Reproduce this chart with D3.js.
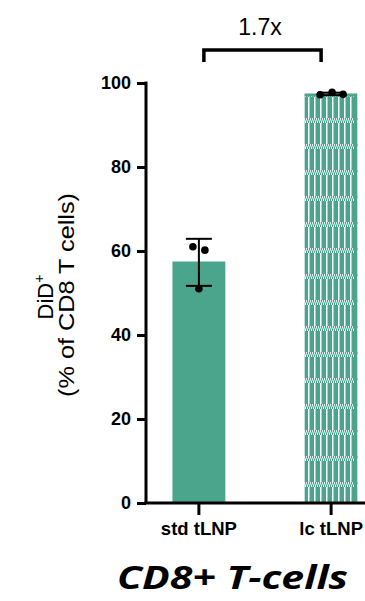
<!DOCTYPE html>
<html>
<head>
<meta charset="utf-8">
<script src="https://cdn.jsdelivr.net/npm/d3@7"></script>
<style>
  body { margin: 0; background: #fff; }
  svg { display: block; }
</style>
</head>
<body>
<svg id="chart" width="365" height="601"></svg>
<script>
// data
const groups = ["std tLNP", "lc tLNP"];
const means = [57.5, 97.4];
const errLow = [51.7, 97.1];
const errHigh = [62.9, 97.7];
const points = [[61.0, 60.2, 51.0], [97.2, 97.8, 97.3]];
const yTicks = [0, 20, 40, 60, 80, 100];
const foldLabel = "1.7x";

const green = "#4ba58c";
const font = "Liberation Sans, Arial, sans-serif";
const svg = d3.select("#chart");

const y = d3.scaleLinear().domain([0, 100]).range([503, 83]);
const x = d3.scaleBand().domain(groups).range([146, 384])
    .paddingInner(0.6).paddingOuter(0.2);

// hatched fill for the lc bar
const defs = svg.append("defs");
const pat = defs.append("pattern")
    .attr("id", "lcFill")
    .attr("patternUnits", "userSpaceOnUse")
    .attr("width", 6).attr("height", 26)
    .attr("x", 305).attr("y", 97);
pat.append("rect").attr("x", 0).attr("y", 0).attr("width", 3).attr("height", 21).attr("fill", green);
pat.append("rect").attr("x", 4.5).attr("y", 0).attr("width", 1.5).attr("height", 21).attr("fill", green);
// checker band
[0, 2, 4].forEach(cx => {
    pat.append("rect").attr("x", cx).attr("y", 21).attr("width", 1.2).attr("height", 2.5).attr("fill", green);
    pat.append("rect").attr("x", cx + 1).attr("y", 23.5).attr("width", 1.2).attr("height", 2.5).attr("fill", green);
});

// bars
svg.selectAll("rect.bar")
    .data(groups)
    .enter()
    .append("rect")
    .attr("class", "bar")
    .attr("x", d => x(d))
    .attr("y", (d, i) => y(means[i]))
    .attr("width", x.bandwidth())
    .attr("height", (d, i) => y(0) - y(means[i]))
    .attr("fill", (d, i) => i === 0 ? green : "url(#lcFill)");

// solid edge on lc bar (top + right)
const lcx = x(groups[1]);
svg.append("path")
    .attr("d", `M${lcx},${y(means[1]) + 1}H${lcx + x.bandwidth() - 2}V${y(0)}`)
    .attr("fill", "none")
    .attr("stroke", green)
    .attr("stroke-width", 3);

// error bars
const capW = 13;
groups.forEach((g, i) => {
    const cx = x(g) + x.bandwidth() / 2;
    const eg = svg.append("g").attr("stroke", "#000").attr("stroke-width", 2);
    eg.append("line").attr("x1", cx).attr("x2", cx).attr("y1", y(errLow[i])).attr("y2", y(errHigh[i]));
    eg.append("line").attr("x1", cx - capW).attr("x2", cx + capW).attr("y1", y(errHigh[i])).attr("y2", y(errHigh[i]));
    eg.append("line").attr("x1", cx - capW).attr("x2", cx + capW).attr("y1", y(errLow[i])).attr("y2", y(errLow[i]));
});

// individual points
const jitter = [-6, 6, 0];
const jitterLc = [-11, 1, 12];
groups.forEach((g, i) => {
    const cx = x(g) + x.bandwidth() / 2;
    svg.selectAll(null)
        .data(points[i])
        .enter()
        .append("circle")
        .attr("cx", (d, j) => cx + (i === 0 ? jitter[j] : jitterLc[j]))
        .attr("cy", d => y(d))
        .attr("r", 3.8)
        .attr("fill", "#000");
});

// y axis
const yAxis = svg.append("g")
    .attr("transform", "translate(146,0)")
    .call(d3.axisLeft(y).tickValues(yTicks).tickSize(9).tickPadding(6));
yAxis.select(".domain").attr("stroke-width", 3).attr("d", `M-0,${y(100) - 1.5}V${y(0)}`);
yAxis.selectAll(".tick line").attr("stroke-width", 3);
yAxis.selectAll(".tick text")
    .attr("font-family", font)
    .attr("font-weight", "bold")
    .attr("font-size", 18)
    .attr("fill", "#000");

// x axis
const xAxis = svg.append("g")
    .attr("transform", `translate(0,${y(0)})`)
    .call(d3.axisBottom(x).tickSize(12).tickSizeOuter(0).tickPadding(7));
xAxis.select(".domain").attr("stroke-width", 3).attr("d", "M144.5,0H365");
xAxis.selectAll(".tick line").attr("stroke-width", 3);
xAxis.selectAll(".tick text")
    .attr("font-family", font)
    .attr("font-weight", "bold")
    .attr("font-size", 18.5)
    .attr("fill", "#000");

// y axis title
const yt = svg.append("text")
    .attr("transform", "translate(53,297) rotate(-90)")
    .attr("text-anchor", "middle")
    .attr("font-family", font)
    .attr("font-size", 22)
    .attr("fill", "#000");
yt.append("tspan").text("DiD");
yt.append("tspan").attr("font-size", 14).attr("dy", -9).text("+");
svg.append("text")
    .attr("transform", "translate(74,295) rotate(-90)")
    .attr("text-anchor", "middle")
    .attr("font-family", font)
    .attr("font-size", 22.5)
    .attr("textLength", 204)
    .attr("lengthAdjust", "spacingAndGlyphs")
    .attr("fill", "#000")
    .text("(% of CD8 T cells)");

// comparison bracket
const c0 = x(groups[0]) + x.bandwidth() / 2 + 5;
const c1 = x(groups[1]) + x.bandwidth() / 2 - 10;
svg.append("path")
    .attr("d", `M${c0},62V50H${c1}V62`)
    .attr("fill", "none")
    .attr("stroke", "#000")
    .attr("stroke-width", 3.5);
svg.append("text")
    .attr("x", 260)
    .attr("y", 35)
    .attr("text-anchor", "middle")
    .attr("font-family", font)
    .attr("font-size", 23)
    .attr("fill", "#000")
    .text(foldLabel);

// title
svg.append("text")
    .attr("x", 232.5)
    .attr("y", 589)
    .attr("text-anchor", "middle")
    .attr("font-family", "'Open Sans', Lato, sans-serif")
    .attr("font-weight", "bold")
    .attr("font-style", "italic")
    .attr("font-size", 32)
    .attr("textLength", 231)
    .attr("lengthAdjust", "spacingAndGlyphs")
    .attr("fill", "#000")
    .text("CD8+ T-cells");
</script>
</body>
</html>
